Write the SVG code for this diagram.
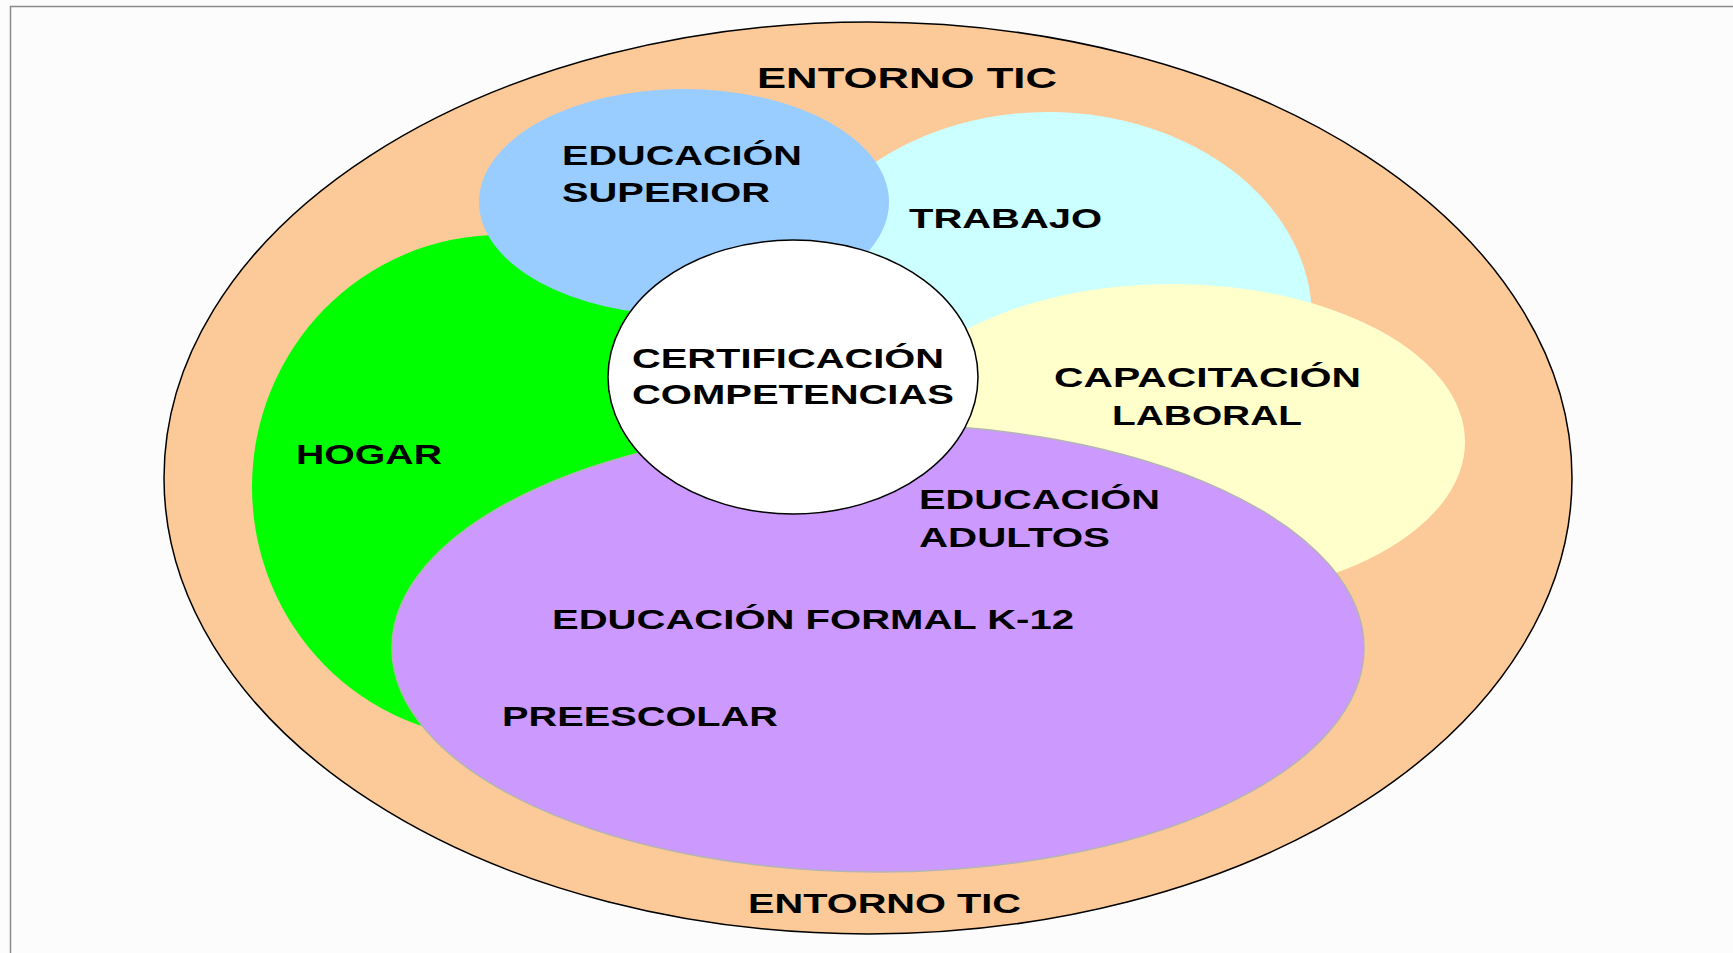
<svg xmlns="http://www.w3.org/2000/svg" width="1733" height="953" viewBox="0 0 1733 953">
<style>
  .t { font-family: "Liberation Sans", Arial, sans-serif; font-weight: bold; font-size: 28px; fill: #000; }
  .big { font-size: 30px; }
</style>
<rect x="0" y="0" width="1733" height="953" fill="#fcfcfc"/>
<rect x="10.5" y="6.5" width="1740" height="960" fill="#fcfcfc" stroke="#8a8a8a" stroke-width="1.5"/>
<g id="entorno">
  <ellipse cx="868" cy="478" rx="704" ry="456" fill="#fcca98" stroke="#000" stroke-width="1.5"/>
</g>
<g id="trabajo">
  <ellipse cx="1048" cy="318" rx="264" ry="206" fill="#ccffff"/>
</g>
<g id="hogar">
  <ellipse cx="500" cy="487" rx="248" ry="252" fill="#00ff00"/>
</g>
<g id="superior">
  <ellipse cx="684" cy="202" rx="205" ry="113" fill="#99ccff"/>
</g>
<g id="capacitacion">
  <ellipse cx="1172" cy="442" rx="293" ry="158" fill="#ffffcc"/>
</g>
<g id="formal">
  <ellipse cx="878" cy="648" rx="486" ry="224" fill="#cc99ff" stroke="#b4b4b4" stroke-width="1.5"/>
</g>
<g id="certificacion">
  <ellipse cx="793" cy="377" rx="185" ry="137" fill="#ffffff" stroke="#000" stroke-width="1.5"/>
</g>
<g id="labels">
  <text class="t big" x="757" y="88" textLength="300" lengthAdjust="spacingAndGlyphs">ENTORNO TIC</text>
  <text class="t" x="562" y="165" textLength="240" lengthAdjust="spacingAndGlyphs">EDUCACIÓN</text>
  <text class="t" x="562" y="202" textLength="208" lengthAdjust="spacingAndGlyphs">SUPERIOR</text>
  <text class="t" x="909" y="228" textLength="193" lengthAdjust="spacingAndGlyphs">TRABAJO</text>
  <text class="t" x="632" y="368" textLength="312" lengthAdjust="spacingAndGlyphs">CERTIFICACIÓN</text>
  <text class="t" x="632" y="404" textLength="322" lengthAdjust="spacingAndGlyphs">COMPETENCIAS</text>
  <text class="t" x="1054" y="387" textLength="307" lengthAdjust="spacingAndGlyphs">CAPACITACIÓN</text>
  <text class="t" x="1112" y="425" textLength="190" lengthAdjust="spacingAndGlyphs">LABORAL</text>
  <text class="t" x="296" y="464" textLength="146" lengthAdjust="spacingAndGlyphs">HOGAR</text>
  <text class="t" x="919" y="509" textLength="241" lengthAdjust="spacingAndGlyphs">EDUCACIÓN</text>
  <text class="t" x="919" y="547" textLength="191" lengthAdjust="spacingAndGlyphs">ADULTOS</text>
  <text class="t" x="552" y="629" textLength="522" lengthAdjust="spacingAndGlyphs">EDUCACIÓN FORMAL K-12</text>
  <text class="t" x="502" y="726" textLength="276" lengthAdjust="spacingAndGlyphs">PREESCOLAR</text>
  <text class="t" x="748" y="913" textLength="273" lengthAdjust="spacingAndGlyphs">ENTORNO TIC</text>
</g>
</svg>
